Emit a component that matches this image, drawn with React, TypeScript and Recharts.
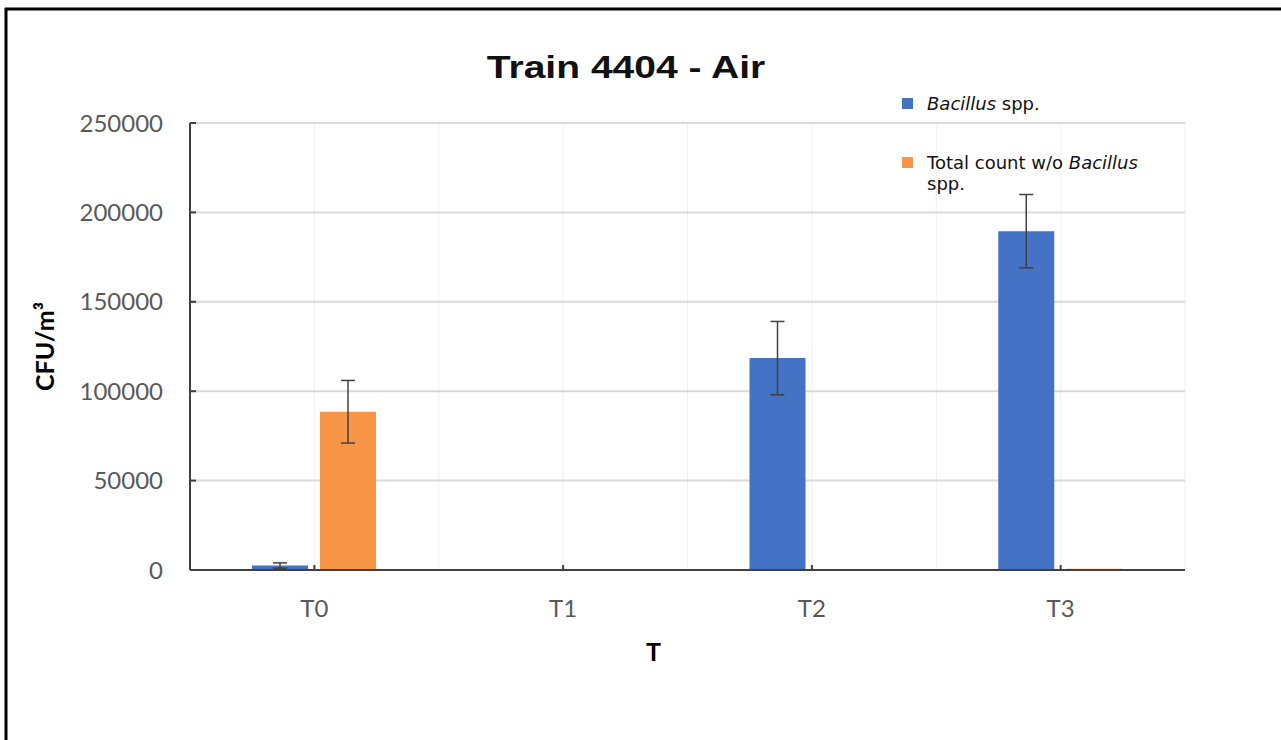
import React from 'react';
import { BarChart, Bar, XAxis, YAxis, CartesianGrid, ErrorBar, Legend } from 'recharts';

const categories = ['T0', 'T1', 'T2', 'T3'];
const bacillus = [2500, 0, 118500, 189500];
const bacillusErr = [1500, 0, 20500, 20500];
const totalWoBacillus = [88500, 0, 0, 700];
const totalWoBacillusErr = [17500, 0, 0, 0];
const yTicks = [0, 50000, 100000, 150000, 200000, 250000];

const data = categories.map((name, i) => ({
    name,
    bacillus: bacillus[i],
    bacillusErr: bacillusErr[i],
    total: totalWoBacillus[i],
    totalErr: totalWoBacillusErr[i],
}));

const BLUE = '#4472C4';
const ORANGE = '#F79646';
const AXIS = '#404040';

// italic genus name inside the legend labels
const renderName = (name: string) => {
    const parts = name.split('Bacillus');
    return parts.map((p, i) => (
        <React.Fragment key={i}>
            {p}
            {i < parts.length - 1 && <i>Bacillus</i>}
        </React.Fragment>
    ));
};

const LegendContent = (props: any) => {
    const { payload } = props;
    return (
        <div style={{ fontFamily: '"DejaVu Sans", sans-serif', fontSize: 18, lineHeight: '21px', color: '#111' }}>
            {(payload || []).map((entry: any, i: number) => (
                <div key={i} style={{ display: 'flex', alignItems: 'flex-start', marginBottom: i === 0 ? 38 : 0 }}>
                    <span style={{ display: 'inline-block', width: 11, height: 11, background: entry.color, marginTop: 5, marginRight: 14, flex: '0 0 auto' }} />
                    <span style={{ width: 232 }}>{renderName(entry.value)}</span>
                </div>
            ))}
        </div>
    );
};

// faint vertical lines at every half category
const verticalLines = ({ offset }: any) => {
    const out: number[] = [];
    for (let i = 0; i <= categories.length * 2; i++) out.push(offset.left + (i * offset.width) / (categories.length * 2));
    return out;
};

export default function App() {
    return (
        <div style={{ position: 'absolute', left: 0, top: 0, width: 1281, height: 740, background: '#fff' }}>
            <BarChart
                width={1281}
                height={740}
                data={data}
                margin={{ top: 123, right: 96, bottom: 0, left: 0 }}
                barSize={56}
                barGap={12}
            >
                <CartesianGrid horizontal={false} stroke="#f0f0f0" strokeWidth={1} verticalCoordinatesGenerator={verticalLines} />
                <CartesianGrid vertical={false} stroke="#d9d9d9" strokeWidth={2} />
                <XAxis
                    dataKey="name"
                    height={170}
                    stroke={AXIS}
                    strokeWidth={2}
                    tickSize={-5}
                    tickMargin={35}
                    tick={{ fill: '#595959', fontSize: 24, fontFamily: 'Lato, sans-serif' }}
                    label={{ value: 'T', position: 'insideTop', offset: 73, dx: -34, fill: '#000', fontSize: 25, fontWeight: 'bold', fontFamily: 'Lato, sans-serif' }}
                />
                <YAxis
                    width={190}
                    domain={[0, 250000]}
                    ticks={yTicks}
                    interval={0}
                    stroke={AXIS}
                    strokeWidth={2}
                    tickSize={-6}
                    tickMargin={33}
                    tick={{ fill: '#595959', fontSize: 24, fontFamily: 'Lato, sans-serif' }}
                    label={{ value: 'CFU/m³', angle: -90, position: 'center', dx: -50, fill: '#000', fontSize: 25, fontWeight: 'bold', fontFamily: 'Lato, sans-serif' }}
                />
                <Legend
                    layout="vertical"
                    align="center"
                    verticalAlign="middle"
                    wrapperStyle={{ left: 902, top: 93, width: 262 }}
                    content={LegendContent}
                />
                <Bar dataKey="bacillus" name="Bacillus spp." fill={BLUE} isAnimationActive={false}>
                    <ErrorBar dataKey="bacillusErr" width={7} stroke={AXIS} strokeWidth={1.5} />
                </Bar>
                <Bar dataKey="total" name="Total count w/o Bacillus spp." fill={ORANGE} isAnimationActive={false}>
                    <ErrorBar dataKey="totalErr" width={7} stroke={AXIS} strokeWidth={1.5} />
                </Bar>
            </BarChart>
            <svg width={1281} height={740} style={{ position: 'absolute', left: 0, top: 0, pointerEvents: 'none' }}>
                <g transform="translate(626,78) scale(1.22,1)">
                    <text x={0} y={0} textAnchor="middle" fontFamily='"Liberation Sans", Arial, sans-serif' fontWeight="bold" fontSize={32} fill="#111">
                        Train 4404 - Air
                    </text>
                </g>
                <line x1={6} y1={8} x2={6} y2={740} stroke="#000" strokeWidth={3} />
                <line x1={5} y1={9} x2={1281} y2={9} stroke="#000" strokeWidth={3} />
            </svg>
        </div>
    );
}
